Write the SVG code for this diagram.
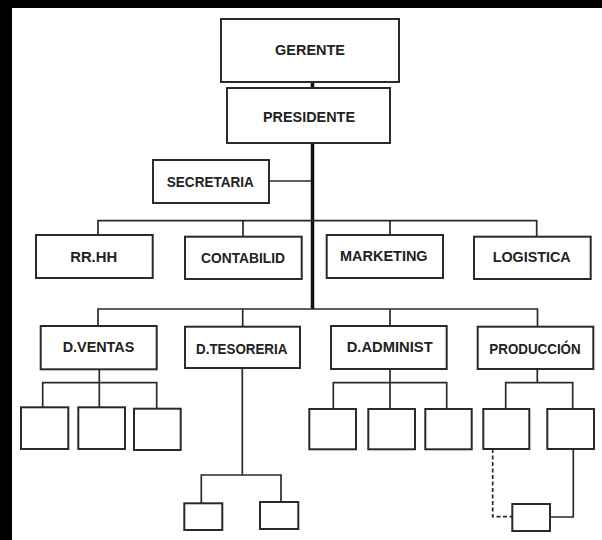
<svg xmlns="http://www.w3.org/2000/svg" width="602" height="540" viewBox="0 0 602 540">
<style>
.box{fill:#fff;stroke:#2a2a2a;stroke-width:2}
.ln{fill:none;stroke:#2a2a2a;stroke-width:1.7}
.thick{fill:none;stroke:#111;stroke-width:3.5}
.dash{fill:none;stroke:#2a2a2a;stroke-width:1.7;stroke-dasharray:4 2.5}
.t{font-family:"Liberation Sans",Arial,sans-serif;font-weight:bold;font-size:15px;fill:#222}
</style>
<rect x="0" y="0" width="602" height="540" fill="#000"/>
<rect x="12" y="8" width="590" height="532" fill="#fff"/>
<g id="connectors">
<path class="thick" d="M312.5 82V88M312.5 143V309"/>
<path class="ln" d="M269 181H311"/>
<path class="ln" d="M98 235V220.7H536.7V237M243 220.7V237M390 220.7V235"/>
<path class="ln" d="M98 326V309H537.5V326.7M242.7 309V326.7M390 309V326"/>
<path class="ln" d="M99.3 369V382.7M42.7 407V382.7H156.7V408.7M99.3 382.7V407"/>
<path class="ln" d="M242.3 368V475M201.3 503V475H281V502"/>
<path class="ln" d="M390 369V382.7M333.3 409V382.7H446.7V409M390 382.7V409"/>
<path class="ln" d="M537.3 369V382.7M505.7 409V382.7H572.7V409"/>
<path class="dash" d="M492.7 449V516.7H512.3"/>
<path class="ln" d="M573.3 449V517H550"/>
</g>
<g id="gerente"><rect class="box" x="221" y="19" width="178" height="63"/><text class="t" x="310" y="55" text-anchor="middle" textLength="70" lengthAdjust="spacingAndGlyphs">GERENTE</text></g>
<g id="presidente"><rect class="box" x="227" y="88" width="163" height="55"/><text class="t" x="309" y="122" text-anchor="middle" textLength="92" lengthAdjust="spacingAndGlyphs">PRESIDENTE</text></g>
<g id="secretaria"><rect class="box" x="153" y="160" width="116" height="43"/><text class="t" x="210.3" y="186.5" text-anchor="middle" textLength="87" lengthAdjust="spacingAndGlyphs">SECRETARIA</text></g>
<g id="rrhh"><rect class="box" x="36" y="235" width="116.7" height="43"/><text class="t" x="93.7" y="261.5" text-anchor="middle" textLength="47" lengthAdjust="spacingAndGlyphs">RR.HH</text></g>
<g id="contabilid"><rect class="box" x="185" y="236.7" width="116.7" height="42.3"/><text class="t" x="243" y="263" text-anchor="middle" textLength="84" lengthAdjust="spacingAndGlyphs">CONTABILID</text></g>
<g id="marketing"><rect class="box" x="326.7" y="235" width="116.3" height="43"/><text class="t" x="383.8" y="261" text-anchor="middle" textLength="87.7" lengthAdjust="spacingAndGlyphs">MARKETING</text></g>
<g id="logistica"><rect class="box" x="474" y="236.7" width="116.7" height="42.3"/><text class="t" x="531.7" y="261.5" text-anchor="middle" textLength="78" lengthAdjust="spacingAndGlyphs">LOGISTICA</text></g>
<g id="dventas"><rect class="box" x="40.7" y="326" width="116" height="43.3"/><text class="t" x="98.5" y="352" text-anchor="middle" textLength="71.7" lengthAdjust="spacingAndGlyphs">D.VENTAS</text></g>
<g id="dtesoreria"><rect class="box" x="185" y="326.7" width="115" height="41.3"/><text class="t" x="241.7" y="354" text-anchor="middle" textLength="91.3" lengthAdjust="spacingAndGlyphs">D.TESORERIA</text></g>
<g id="dadminist"><rect class="box" x="331" y="326" width="115.7" height="43"/><text class="t" x="389.7" y="351.5" text-anchor="middle" textLength="86" lengthAdjust="spacingAndGlyphs">D.ADMINIST</text></g>
<g id="produccion"><rect class="box" x="477.7" y="326.7" width="115.6" height="42.3"/><text class="t" x="535" y="353.5" text-anchor="middle" textLength="91.3" lengthAdjust="spacingAndGlyphs">PRODUCCIÓN</text></g>
<g id="ventas1"><rect class="box" x="21" y="407.3" width="47.3" height="41.7"/></g>
<g id="ventas2"><rect class="box" x="78.3" y="407.3" width="46.7" height="41.7"/></g>
<g id="ventas3"><rect class="box" x="134" y="408.7" width="46.7" height="41.3"/></g>
<g id="tesoreria1"><rect class="box" x="184.3" y="503.3" width="38" height="26.7"/></g>
<g id="tesoreria2"><rect class="box" x="260" y="502" width="38.3" height="27"/></g>
<g id="admin1"><rect class="box" x="309.3" y="409" width="46.7" height="40.3"/></g>
<g id="admin2"><rect class="box" x="368.3" y="409" width="46.7" height="40.3"/></g>
<g id="admin3"><rect class="box" x="425.3" y="409" width="46.4" height="40.3"/></g>
<g id="prod1"><rect class="box" x="483.3" y="409" width="46" height="40"/></g>
<g id="prod2"><rect class="box" x="547.3" y="409" width="46.7" height="40"/></g>
<g id="prod3"><rect class="box" x="512.3" y="504" width="37.7" height="27"/></g>
</svg>
